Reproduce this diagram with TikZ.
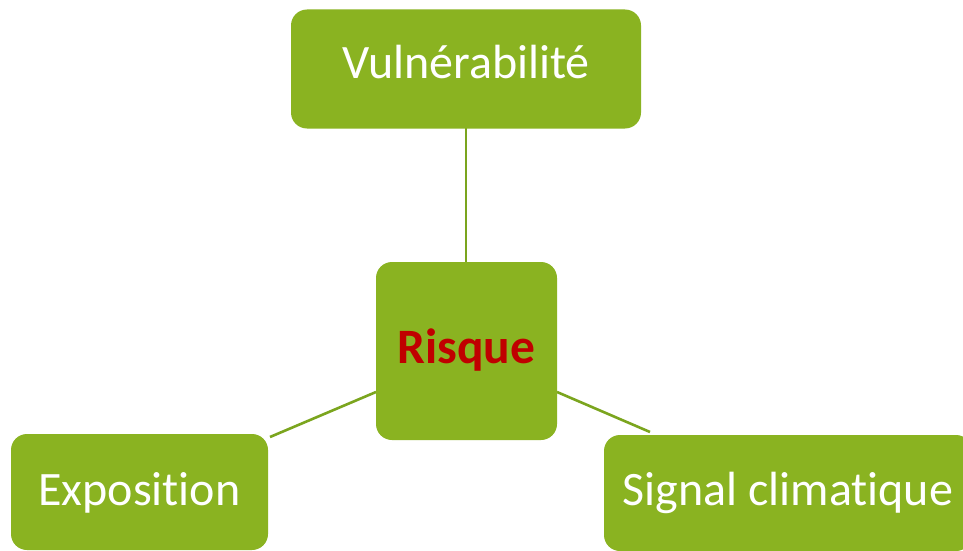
\documentclass[tikz,border=0pt]{standalone}
\usepackage{fontspec}
\setmainfont{Carlito}[Ligatures={NoCommon}]
\definecolor{boxgreen}{HTML}{8AB321}
\definecolor{linegreen}{HTML}{7BA51E}
\definecolor{riskred}{HTML}{C00000}
\begin{document}
\begin{tikzpicture}[x=1pt,y=-1pt,
  box/.style={fill=boxgreen, rounded corners=16pt, text=white, inner sep=0pt, text height=30pt, font=\fontsize{48}{52}\selectfont},
  link/.style={draw=linegreen, line width=2.6pt}]
\useasboundingbox (0,0) rectangle (963,551);
\clip (0,0) rectangle (963,551);
\fill[white] (0,0) rectangle (963,551);
\coordinate (rl) at (376,392);
\coordinate (ex) at (270,437);
\coordinate (rr) at (557,392);
\coordinate (sg) at (650,432);
\coordinate (vb) at (466,128);
\coordinate (rt) at (466,262);
\draw[link] (vb) -- (rt);
\draw[link] (rl) -- (ex);
\draw[link] (rr) -- (sg);
\node[box, minimum width=350pt, minimum height=119pt, text depth=12pt] (vul) at (466,69) {Vulnérabilité};
\node[box, minimum width=181pt, minimum height=178pt, text depth=6pt, text=riskred, font=\fontsize{49.5}{52}\selectfont\bfseries] (risk) at (466.5,351) {Risque};
\node[box, minimum width=257pt, minimum height=116pt, text depth=4pt] (expo) at (139.5,492) {Exposition};
\node[box, minimum width=368pt, minimum height=116pt, text depth=6pt] (sig) at (788,493) {Signal climatique};
\end{tikzpicture}
\end{document}
